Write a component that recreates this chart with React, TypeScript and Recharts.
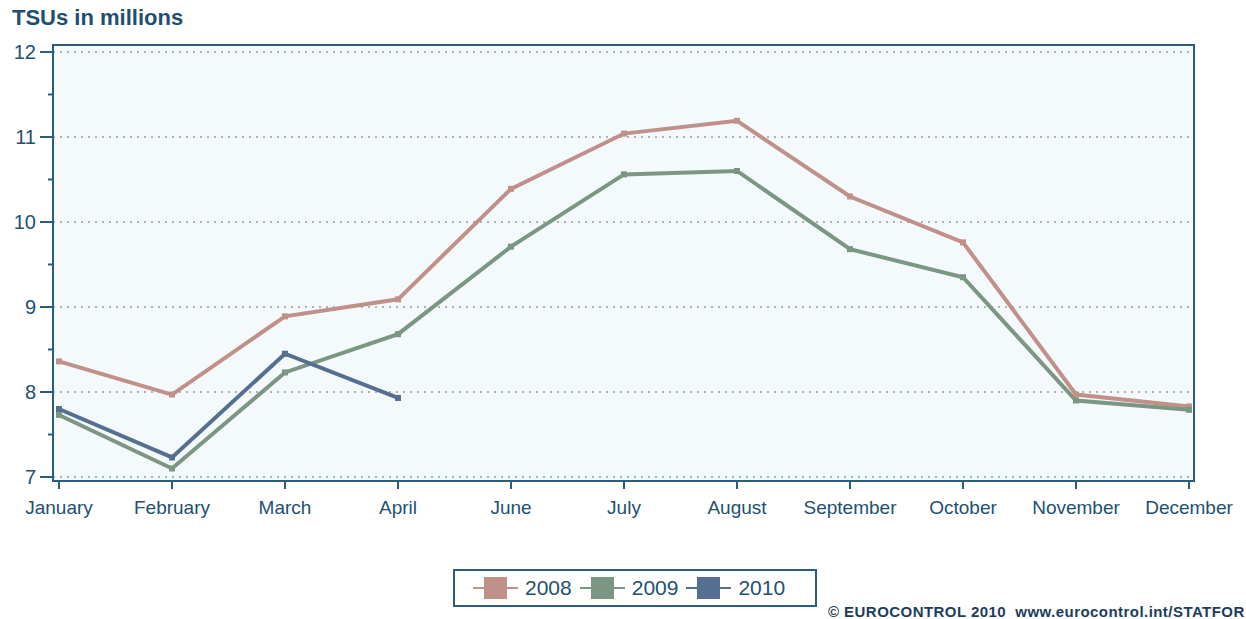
import React from 'react';
import {
  LineChart,
  Line,
  XAxis,
  YAxis,
  ReferenceLine,
  CartesianGrid,
} from 'recharts';

const months = [
  'January', 'February', 'March', 'April', 'June', 'July',
  'August', 'September', 'October', 'November', 'December',
];
const tsu2008 = [8.36, 7.97, 8.89, 9.09, 10.39, 11.04, 11.19, 10.3, 9.76, 7.97, 7.83];
const tsu2009 = [7.73, 7.1, 8.23, 8.68, 9.71, 10.56, 10.6, 9.68, 9.35, 7.9, 7.79];
const tsu2010 = [7.8, 7.23, 8.45, 7.93];

const yTicks = [7, 7.5, 8, 8.5, 9, 9.5, 10, 10.5, 11, 11.5, 12];
const gridValues = [7, 8, 9, 10, 11, 12];

const series = [
  { key: 'y2008', name: '2008', color: '#c0918a' },
  { key: 'y2009', name: '2009', color: '#7b9683' },
  { key: 'y2010', name: '2010', color: '#556f90' },
];

const data = months.map((m, i) => ({
  month: m,
  y2008: tsu2008[i],
  y2009: tsu2009[i],
  y2010: i < tsu2010.length ? tsu2010[i] : null,
}));

const axisColor = '#2c5b7c';
const textColor = '#24506f';
const font = '"Liberation Sans", Arial, sans-serif';

// chart box
const W = 1246;
const H = 619;
const M = { top: 45, right: 52, bottom: 108, left: 0 };
const yAxisW = 53;
const xAxisH = 30;

function YTick(props: any) {
  const { x, y, payload } = props;
  const major = Number.isInteger(payload.value);
  return (
    <g>
      <line x1={x - (major ? 13 : 5)} x2={x} y1={y} y2={y} stroke={axisColor} strokeWidth={2} />
      {major && (
        <text x={x - 17} y={y} dy="0.36em" textAnchor="end" fill={textColor} fontSize={20} fontFamily={font}>
          {payload.value}
        </text>
      )}
    </g>
  );
}

function SquareDot(props: any) {
  const { cx, cy, stroke, value } = props;
  if (value == null || cx == null || cy == null) return null;
  return <rect x={cx - 3} y={cy - 3} width={6} height={6} fill={stroke} />;
}

export default function App() {
  return (
    <div style={{ position: 'absolute', left: 0, top: 0, width: W, height: H, background: '#fff', fontFamily: font }}>
      <div style={{ position: 'absolute', left: 12, top: 5, fontSize: 22, fontWeight: 'bold', color: '#1e4f70' }}>
        TSUs in millions
      </div>
      <LineChart width={W} height={H} data={data} margin={M}>
        <CartesianGrid fill="#f4f9fc" stroke="none" />
        {gridValues.map((v) => (
          <ReferenceLine key={v} y={v} stroke="#9a9a9a" strokeDasharray="2 5" strokeWidth={1.5} />
        ))}
        <XAxis
          dataKey="month"
          padding={{ left: 6, right: 5 }}
          axisLine={{ stroke: axisColor, strokeWidth: 2 }}
          tickLine={{ stroke: axisColor, strokeWidth: 2 }}
          tickSize={8}
          tickMargin={12}
          height={xAxisH}
          interval={0}
          tick={{ fill: textColor, fontSize: 19, fontFamily: font }}
        />
        <YAxis
          domain={[6.953, 12.082]}
          ticks={yTicks}
          interval={0}
          width={yAxisW}
          tickSize={0}
          tickMargin={0}
          tickLine={false}
          axisLine={{ stroke: axisColor, strokeWidth: 2 }}
          tick={<YTick />}
          allowDataOverflow
        />
        {series.map((s) => (
          <Line
            key={s.key}
            dataKey={s.key}
            name={s.name}
            stroke={s.color}
            strokeWidth={4}
            dot={<SquareDot />}
            activeDot={false}
            connectNulls={false}
            isAnimationActive={false}
          />
        ))}
      </LineChart>
      {/* frame around the plot area */}
      <div
        style={{
          position: 'absolute',
          left: M.left + yAxisW - 1,
          top: M.top - 1,
          width: W - M.left - M.right - yAxisW + 2,
          height: H - M.top - M.bottom - xAxisH + 2,
          boxSizing: 'border-box',
          border: `2px solid ${axisColor}`,
          pointerEvents: 'none',
        }}
      />
      <div
        style={{
          position: 'absolute', left: 453, top: 569, width: 342, height: 34,
          border: `2px solid ${axisColor}`, background: '#fff',
          display: 'flex', alignItems: 'center', paddingLeft: 18, boxSizing: 'content-box',
        }}
      >
        {series.map((s) => (
          <div key={s.key} style={{ display: 'flex', alignItems: 'center', marginRight: 8 }}>
            <div style={{ position: 'relative', width: 45, height: 22 }}>
              <div style={{ position: 'absolute', left: 0, right: 0, top: 10, height: 2, background: s.color }} />
              <div style={{ position: 'absolute', left: 11, top: 0, width: 23, height: 22, background: s.color }} />
            </div>
            <span style={{ marginLeft: 7, fontSize: 21, color: textColor }}>{s.name}</span>
          </div>
        ))}
      </div>
      <div style={{ position: 'absolute', left: 828, top: 603, fontSize: 15, letterSpacing: 0.45, fontWeight: 'bold', color: '#1c3d5c', whiteSpace: 'nowrap' }}>
        © EUROCONTROL 2010&nbsp;&nbsp;www.eurocontrol.int/STATFOR
      </div>
    </div>
  );
}
